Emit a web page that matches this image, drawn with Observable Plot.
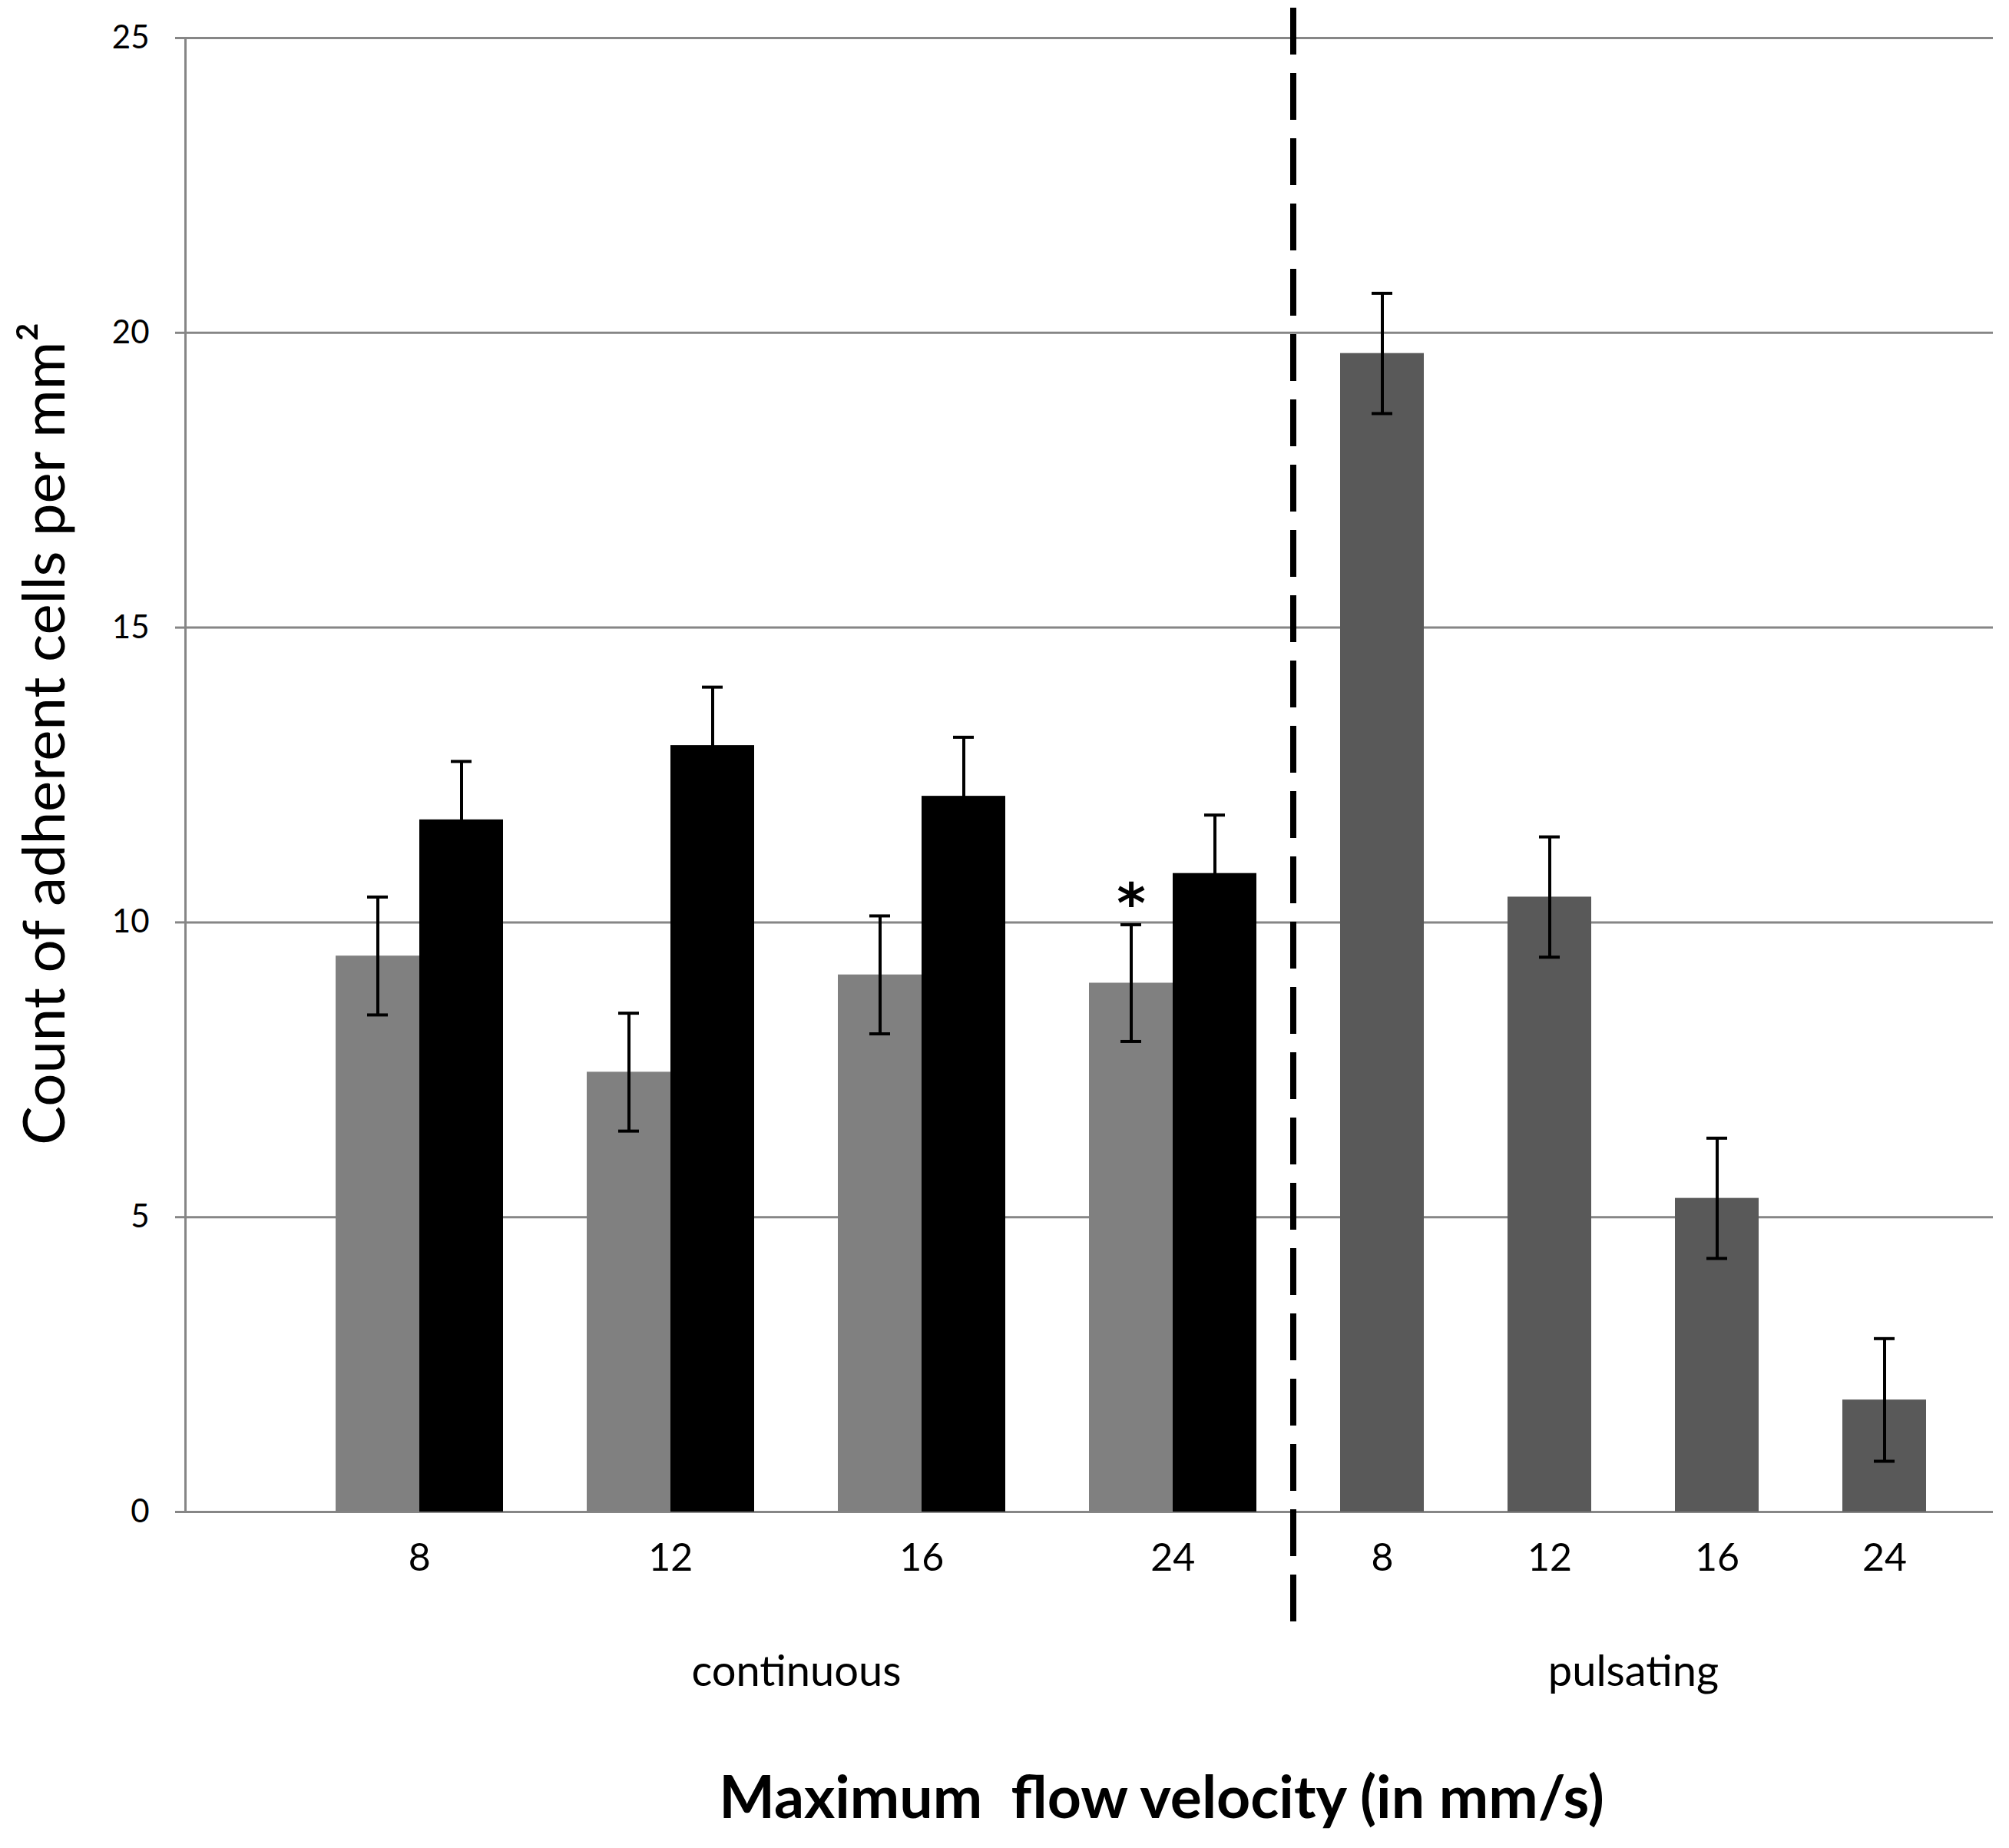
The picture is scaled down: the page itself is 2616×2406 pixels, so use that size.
<!DOCTYPE html>
<html>
<head>
<meta charset="utf-8">
<script src="https://cdn.jsdelivr.net/npm/d3@7"></script>
<script src="https://cdn.jsdelivr.net/npm/@observablehq/plot@0.6"></script>
<style>
  html, body { margin: 0; padding: 0; background: #ffffff; }
</style>
</head>
<body>
<div id="chart"></div>
<script>
// ---- data ----
const velocities = [8, 12, 16, 24];            // mm/s
const groups = ["continuous", "pulsating"];
const continuousGray = [9.43, 7.46, 9.11, 8.97];
const continuousGrayErr = [1.0, 1.0, 1.0, 0.99];
const continuousBlack = [11.74, 13.0, 12.14, 10.83];
const continuousBlackErr = [0.99, 0.99, 1.0, 0.99];
const pulsating = [19.65, 10.43, 5.32, 1.90];
const pulsatingErr = [1.02, 1.02, 1.02, 1.04];
const yTicks = [0, 5, 10, 15, 20, 25];
const significance = [{group: "continuous", velocity: 24, series: "gray", label: "*"}];
const yTitle = "Count of adherent cells per mm\u00B2";
const xTitle = "Maximum  flow velocity (in mm/s)";

// ---- slot keys for the band scale (bars, spacer slots) ----
const contKeys = [];
velocities.forEach(v => contKeys.push(`c${v}g`, `c${v}b`, `c${v}_`));
const pulsKeys = [];
velocities.forEach((v, i) => { pulsKeys.push(`p${v}`); if (i < velocities.length - 1) pulsKeys.push(`p${v}_`); });
const keys = contKeys.concat(pulsKeys);
const contSpan = contKeys.slice(0, -1);   // continuous bars span (trailing spacer is the divider slot)
const dividerKey = contKeys[contKeys.length - 1];

const grayRows = velocities.map((v, i) => ({key: `c${v}g`, value: continuousGray[i], err: continuousGrayErr[i]}));
const blackRows = velocities.map((v, i) => ({key: `c${v}b`, value: continuousBlack[i], err: continuousBlackErr[i]}));
const pulsRows = velocities.map((v, i) => ({key: `p${v}`, value: pulsating[i], err: pulsatingErr[i]}));
const allRows = grayRows.concat(blackRows, pulsRows);

const xRange = [434, 2511];
const bandwidth = (xRange[1] - xRange[0]) / keys.length;

const groupLabels = [
  {text: groups[0], key: contSpan[Math.floor(contSpan.length / 2)]},
  {text: groups[1], key: pulsKeys[Math.floor(pulsKeys.length / 2)]}
];
const sigRows = significance.map(s => {
  const row = grayRows.find(r => r.key === `c${s.velocity}g`);
  return {key: row.key, y: row.value + row.err, label: s.label};
});

const gridColor = "#868686";
const font = "Lato, 'Open Sans', sans-serif";

const chart = Plot.plot({
  width: 2616,
  height: 2406,
  marginLeft: 241,
  marginRight: 21,
  marginTop: 49,
  marginBottom: 438,
  style: {fontFamily: font, background: "#ffffff", color: "#000000"},
  x: {type: "band", domain: keys, range: xRange, padding: 0, axis: null},
  y: {domain: [0, 25]},
  marks: [
    Plot.ruleY(yTicks, {stroke: gridColor, strokeWidth: 3}),
    Plot.axisY({ticks: yTicks, tickSize: 13, tickPadding: 34, stroke: gridColor, strokeWidth: 3, fill: "#000000", fontSize: 42, label: null, tickFormat: d => String(d)}),
    Plot.frame({anchor: "left", stroke: gridColor, strokeWidth: 3}),
    Plot.barY(grayRows, {x: "key", y: "value", fill: "#808080"}),
    Plot.barY(blackRows, {x: "key", y: "value", fill: "#000000"}),
    Plot.barY(pulsRows, {x: "key", y: "value", fill: "#595959"}),
    Plot.ruleX(allRows, {x: "key", y1: d => d.value - d.err, y2: d => d.value + d.err, stroke: "#000000", strokeWidth: 4}),
    Plot.tickY(allRows, {x: "key", y: d => d.value + d.err, stroke: "#000000", strokeWidth: 4, insetLeft: 41, insetRight: 41}),
    Plot.tickY(allRows, {x: "key", y: d => d.value - d.err, stroke: "#000000", strokeWidth: 4, insetLeft: 41, insetRight: 41}),
    Plot.ruleX([dividerKey], {x: d => d, dx: -7, insetTop: -39, insetBottom: -143, stroke: "#000000", strokeWidth: 8, strokeDasharray: "61,24"}),
    Plot.text(sigRows, {x: "key", y: "y", text: "label", dy: -26, fontSize: 72, fontFamily: "'DejaVu Sans', sans-serif", fontWeight: "bold", fill: "#000000"}),
    // category tick labels
    Plot.text(velocities, {x: v => `c${v}b`, text: v => String(v), frameAnchor: "bottom", dx: -bandwidth / 2, dy: 76, fontSize: 50, fill: "#000000"}),
    Plot.text(velocities, {x: v => `p${v}`, text: v => String(v), frameAnchor: "bottom", dy: 76, fontSize: 50, fill: "#000000"}),
    // group labels
    Plot.text(groupLabels, {x: "key", text: "text", frameAnchor: "bottom", dy: 226, fontSize: 56, fill: "#000000"}),
    // axis titles
    Plot.text([xTitle], {text: d => d, frameAnchor: "bottom", textAnchor: "middle", dx: 94, dy: 398, fontSize: 77, fontWeight: "bold", fill: "#000000"}),
    Plot.text([yTitle], {text: d => d, frameAnchor: "left", textAnchor: "middle", rotate: -90, dx: -182, dy: -54, fontSize: 76, fill: "#000000"})
  ]
});
document.getElementById("chart").appendChild(chart);
</script>
</body>
</html>
